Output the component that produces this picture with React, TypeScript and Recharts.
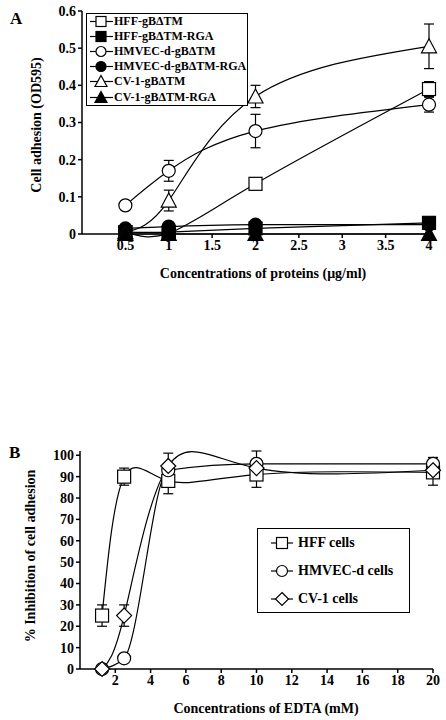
import { LineChart, Line, XAxis, YAxis, ErrorBar } from "recharts";

const FONT = "'Liberation Serif', 'Times New Roman', serif";

// panel A: cell adhesion vs protein concentration
const xA = [0.5, 1, 2, 4];
const hffTM = [0.005, 0.002, 0.135, 0.39];
const hffTMErr = [0, 0, 0, 0.02];
const hffRGA = [0.005, 0.005, 0.015, 0.03];
const hmvecTM = [0.077, 0.17, 0.277, 0.348];
const hmvecTMErr = [0, 0.028, 0.045, 0.02];
const hmvecRGA = [0.015, 0.02, 0.025, 0.025];
const cvTM = [0.005, 0.09, 0.37, 0.505];
const cvTMErr = [0, 0.028, 0.03, 0.06];
const cvRGA = [0, 0, 0, 0];
const ticksXA = [0.5, 1, 1.5, 2, 2.5, 3, 3.5, 4];
const ticksYA = [0, 0.1, 0.2, 0.3, 0.4, 0.5, 0.6];

// panel B: inhibition vs EDTA
const xB = [1.25, 2.5, 5, 10, 20];
const hffB = [25, 90, 88, 91, 92];
const hffBErr = [5, 4, 6, 6, 6];
const hmvecB = [0, 5, 93, 96, 96];
const hmvecBErr = [0, 0, 0, 6, 3];
const cvB = [0, 25, 95, 94, 93];
const cvBErr = [0, 5, 6, 0, 0];
const ticksXB = [2, 4, 6, 8, 10, 12, 14, 16, 18, 20];
const ticksYB = [0, 10, 20, 30, 40, 50, 60, 70, 80, 90, 100];

const dataA = xA.map((x, i) => ({
  x,
  hffTM: hffTM[i],
  hffTMErr: hffTMErr[i],
  hffRGA: hffRGA[i],
  hmvecTM: hmvecTM[i],
  hmvecTMErr: hmvecTMErr[i],
  hmvecRGA: hmvecRGA[i],
  cvTM: cvTM[i],
  cvTMErr: cvTMErr[i],
  cvRGA: cvRGA[i],
}));

const dataB = xB.map((x, i) => ({
  x,
  hff: hffB[i],
  hffErr: hffBErr[i],
  hmvec: hmvecB[i],
  hmvecErr: hmvecBErr[i],
  cv: cvB[i],
  cvErr: cvBErr[i],
}));

type Shape = "square" | "circle" | "triangle" | "diamond";

function Marker({ shape, filled, cx, cy, s }: { shape: Shape; filled: boolean; cx: number; cy: number; s: number }) {
  const fill = filled ? "#000" : "#fff";
  const h = s / 2;
  if (shape === "square")
    return <rect x={cx - h} y={cy - h} width={s} height={s} fill={fill} stroke="#000" strokeWidth={1.2} />;
  if (shape === "circle") return <circle cx={cx} cy={cy} r={h} fill={fill} stroke="#000" strokeWidth={1.2} />;
  if (shape === "triangle")
    return (
      <polygon
        points={`${cx},${cy - h - 1} ${cx + h + 1},${cy + h} ${cx - h - 1},${cy + h}`}
        fill={fill}
        stroke="#000"
        strokeWidth={1.2}
      />
    );
  return (
    <polygon
      points={`${cx},${cy - h - 1} ${cx + h + 1},${cy} ${cx},${cy + h + 1} ${cx - h - 1},${cy}`}
      fill={fill}
      stroke="#000"
      strokeWidth={1.2}
    />
  );
}

const dot = (shape: Shape, filled: boolean, s: number) => (p: any) => (
  <Marker key={`${shape}-${p.index}`} shape={shape} filled={filled} cx={p.cx} cy={p.cy} s={s} />
);

const seriesA = [
  { key: "hffTM", err: "hffTMErr", name: "HFF-gBΔTM", shape: "square" as Shape, filled: false },
  { key: "hffRGA", err: null, name: "HFF-gBΔTM-RGA", shape: "square" as Shape, filled: true },
  { key: "hmvecTM", err: "hmvecTMErr", name: "HMVEC-d-gBΔTM", shape: "circle" as Shape, filled: false },
  { key: "hmvecRGA", err: null, name: "HMVEC-d-gBΔTM-RGA", shape: "circle" as Shape, filled: true },
  { key: "cvTM", err: "cvTMErr", name: "CV-1-gBΔTM", shape: "triangle" as Shape, filled: false },
  { key: "cvRGA", err: null, name: "CV-1-gBΔTM-RGA", shape: "triangle" as Shape, filled: true },
];

const seriesB = [
  { key: "hff", err: "hffErr", name: "HFF cells", shape: "square" as Shape, curve: "natural" },
  { key: "hmvec", err: "hmvecErr", name: "HMVEC-d cells", shape: "circle" as Shape, curve: "monotone" },
  { key: "cv", err: "cvErr", name: "CV-1 cells", shape: "diamond" as Shape, curve: "natural" },
];

const tickStyle = { fill: "#000", fontSize: 14, fontWeight: "bold", fontFamily: FONT };

const LegendA = () => (
  <div
    style={{
      position: "absolute",
      left: 86,
      top: 13,
      border: "1.5px solid #000",
      width: 162,
      height: 93,
      boxSizing: "border-box",
      padding: "0 0 0 2px",
      background: "#fff",
    }}
  >
    {seriesA.map((s) => (
      <div key={s.key} style={{ display: "flex", alignItems: "center", height: 15.1, whiteSpace: "nowrap" }}>
        <svg width={24} height={15} style={{ flex: "none" }}>
          <line x1={1} y1={7.5} x2={24} y2={7.5} stroke="#000" strokeWidth={1.2} />
          <Marker shape={s.shape} filled={s.filled} cx={12} cy={7.5} s={10} />
        </svg>
        <span style={{ fontFamily: FONT, fontWeight: "bold", fontSize: 12, marginLeft: 1, color: "#000" }}>{s.name}</span>
      </div>
    ))}
  </div>
);

const LegendB = () => (
  <div
    style={{
      position: "absolute",
      left: 257,
      top: 528,
      border: "1.5px solid #000",
      width: 153,
      height: 85,
      boxSizing: "border-box",
      padding: "0 0 0 12px",
      background: "#fff",
    }}
  >
    {seriesB.map((s) => (
      <div key={s.key} style={{ display: "flex", alignItems: "center", height: 28, whiteSpace: "nowrap" }}>
        <svg width={24} height={16} style={{ flex: "none" }}>
          <line x1={1} y1={8} x2={23} y2={8} stroke="#000" strokeWidth={1.2} />
          <Marker shape={s.shape} filled={false} cx={12} cy={8} s={11} />
        </svg>
        <span style={{ fontFamily: FONT, fontWeight: "bold", fontSize: 14, marginLeft: 4, color: "#000" }}>{s.name}</span>
      </div>
    ))}
  </div>
);

export default function App() {
  return (
    <div style={{ position: "absolute", left: 0, top: 0, width: 446, height: 720, background: "#fff" }}>
      <div style={{ position: "absolute", left: 0, top: 0 }}>
        <LineChart width={446} height={300} data={dataA} margin={{ top: 11, right: 17, bottom: 36, left: 42 }}>
          <XAxis
            type="number"
            dataKey="x"
            domain={[0, 4]}
            ticks={ticksXA}
            interval={0}
            tick={tickStyle}
            tickSize={4}
            stroke="#000"
            strokeWidth={1.5}
            height={30}
          />
          <YAxis
            type="number"
            domain={[0, 0.6]}
            ticks={ticksYA}
            interval={0}
            tick={tickStyle}
            tickSize={4}
            stroke="#000"
            strokeWidth={1.5}
            width={40}
          />
          {seriesA.map((s) => (
            <Line
              key={s.key}
              dataKey={s.key}
              name={s.name}
              type="natural"
              stroke="#000"
              strokeWidth={1.2}
              dot={dot(s.shape, s.filled, 13)}
              activeDot={false}
              isAnimationActive={false}
            >
              {s.err && <ErrorBar dataKey={s.err} width={5} stroke="#000" strokeWidth={1.2} direction="y" />}
            </Line>
          ))}
        </LineChart>
      </div>
      <div style={{ position: "absolute", left: 0, top: 360 }}>
        <LineChart width={446} height={360} data={dataB} margin={{ top: 91, right: 13, bottom: 21, left: 40 }}>
          <XAxis
            type="number"
            dataKey="x"
            domain={[0, 20]}
            ticks={ticksXB}
            interval={0}
            tick={tickStyle}
            tickSize={4}
            stroke="#000"
            strokeWidth={1.5}
            height={30}
          />
          <YAxis
            type="number"
            domain={[0, 100]}
            ticks={ticksYB}
            interval={0}
            tick={tickStyle}
            tickSize={4}
            stroke="#000"
            strokeWidth={1.5}
            width={40}
          />
          {seriesB.map((s) => (
            <Line
              key={s.key}
              dataKey={s.key}
              name={s.name}
              type={s.curve as any}
              stroke="#000"
              strokeWidth={1.2}
              dot={dot(s.shape, false, 13)}
              activeDot={false}
              isAnimationActive={false}
            >
              <ErrorBar dataKey={s.err} width={5} stroke="#000" strokeWidth={1.2} direction="y" />
            </Line>
          ))}
        </LineChart>
      </div>
      <LegendA />
      <LegendB />
      <svg width={446} height={720} style={{ position: "absolute", left: 0, top: 0, pointerEvents: "none" }}>
        <g fontFamily={FONT} fontWeight="bold" fill="#000">
          <text x={10} y={24} fontSize={17}>A</text>
          <text x={9} y={458} fontSize={17}>B</text>
          <text x={38} y={125} fontSize={14} textAnchor="middle" transform="rotate(-90 38 125)" dominantBaseline="middle">
            Cell adhesion (OD595)
          </text>
          <text x={263} y={278} fontSize={14} textAnchor="middle">
            Concentrations of proteins (μg/ml)
          </text>
          <text x={32} y={556} fontSize={14} textAnchor="middle" transform="rotate(-90 32 556)" dominantBaseline="middle">
            % Inhibition of cell adhesion
          </text>
          <text x={266} y={713} fontSize={14} textAnchor="middle">
            Concentrations of EDTA (mM)
          </text>
        </g>
      </svg>
    </div>
  );
}
